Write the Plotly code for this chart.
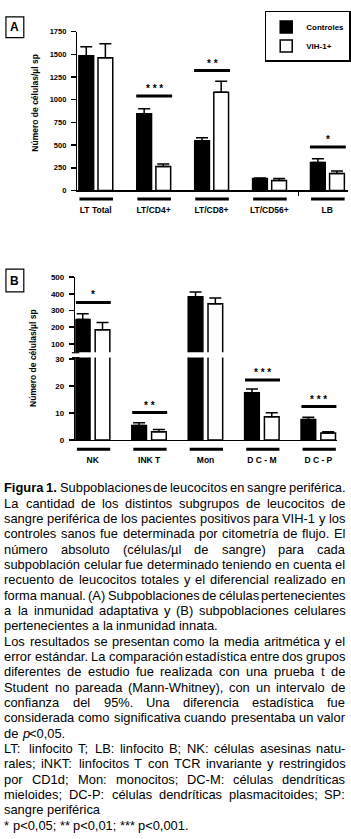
import plotly.graph_objects as go

# ---------------- data ----------------
cats_A = ["LT Total", "LT/CD4+", "LT/CD8+", "LT/CD56+", "LB"]
ctrl_A = [1485, 845, 547, 133, 307]
ctrl_A_err = [98, 55, 33, 5, 44]
vih_A = [1463, 264, 1082, 111, 188]
vih_A_err = [153, 28, 123, 22, 28]
sig_A_cat = [1, 2, 4]
sig_A_stars = ["* * *", "* *", "*"]
sig_A_level = [1041, 1322, 478]

cats_B = ["NK", "INK T", "Mon", "D C - M", "D C - P"]
ctrl_B = [246, 5.4, 382, 17.5, 7.6]
ctrl_B_err = [34, 1.0, 28, 1.4, 0.8]
vih_B = [185, 3.1, 340, 8.6, 2.6]
vih_B_err = [43, 0.8, 34, 1.5, 0.5]
sig_B_cat = [0, 1, 3, 4]
sig_B_stars = ["*", "* *", "* * *", "* * *"]
sig_B_level = [348, 10.2, 22.3, 12.4]

ticks_A = [0, 250, 500, 750, 1000, 1250, 1500, 1750]
ticks_B_low = [0, 10, 20, 30]
ticks_B_high = [100, 200, 300, 400, 500]

y_title = "Número de células/µl sp"
series_names = ["Controles", "VIH-1+"]

caption_lines = [
    "^Figura ^1. Subpoblaciones de leucocitos en sangre periférica.",
    "La cantidad de los distintos subgrupos de leucocitos de",
    "sangre periférica de los pacientes positivos para VIH-1 y los",
    "controles sanos fue determinada por citometría de flujo. El",
    "número absoluto (células/µl de sangre) para cada",
    "subpoblación celular fue determinado teniendo en cuenta el",
    "recuento de leucocitos totales y el diferencial realizado en",
    "forma manual. (A) Subpoblaciones de células pertenecientes",
    "a la inmunidad adaptativa y (B) subpoblaciones celulares",
    "pertenecientes a la inmunidad innata.",
    "Los resultados se presentan como la media aritmética y el",
    "error estándar. La comparación estadística entre dos grupos",
    "diferentes de estudio fue realizada con una prueba t de",
    "Student no pareada (Mann-Whitney), con un intervalo de",
    "confianza del 95%. Una diferencia estadística fue",
    "considerada como significativa cuando presentaba un valor",
    "de ~p|<0,05.",
    "LT: linfocito T; LB: linfocito B; NK: células asesinas natu-",
    "rales; iNKT: linfocitos T con TCR invariante y restringidos",
    "por CD1d; Mon: monocitos; DC-M: células dendríticas",
    "mieloides; DC-P: células dendríticas plasmacitoides; SP:",
    "sangre periférica",
    "* p<0,05; ** p<0,01; *** p<0,001.",
]
last_of_paragraph = {9, 16, 21, 22}

# ---------------- helpers ----------------
FW, FH = 351, 839
def fx(px):
    return px / FW
def fy(py):
    return 1 - py / FH

FONT = "Liberation Sans"
BLACK = "black"

# Helvetica/Arial advance widths (1/1000 em)
REG = {' ': 278, '!': 278, '%': 889, '(': 333, ')': 333, '*': 389, '+': 584, ',': 278,
       '-': 333, '.': 278, '/': 278, ':': 278, ';': 278, '<': 584, '>': 584,
       'á': 556, 'é': 556, 'í': 278, 'ó': 556, 'ú': 556, 'ñ': 556, 'µ': 556}
for d in "0123456789":
    REG[d] = 556
for ch, w in zip("ABCDEFGHIJKLMNOPQRSTUVWXYZ",
                 [667, 667, 722, 722, 667, 611, 778, 722, 278, 500, 667, 556, 833, 722, 778,
                  667, 778, 722, 667, 611, 722, 667, 944, 667, 667, 611]):
    REG[ch] = w
for ch, w in zip("abcdefghijklmnopqrstuvwxyz",
                 [556, 556, 500, 556, 556, 278, 556, 556, 222, 222, 500, 222, 833, 556, 556,
                  556, 556, 333, 500, 278, 556, 500, 722, 500, 500, 500]):
    REG[ch] = w
BOLD = dict(REG)
BOLD.update({'F': 611, 'i': 278, 'g': 611, 'u': 611, 'r': 389, 'a': 556, '.': 278})

def width_em(s, bold=False):
    tab = BOLD if bold else REG
    return sum(tab.get(c, 556) for c in s) / 1000.0

def tokens_of(line):
    toks = []
    for word in line.split(" "):
        for k, seg in enumerate(word.split("|")):
            style = ""
            if seg.startswith("^"):
                style, seg = "b", seg[1:]
            elif seg.startswith("~"):
                style, seg = "i", seg[1:]
            toks.append((seg, style, k > 0))
    return toks

def esc(s):
    return s.replace("&", "&amp;").replace("<", "&lt;").replace(">", "&gt;")

# ---------------- figure ----------------
fig = go.Figure()

def add_bars(xa, ya, vals, errs, color, name, offset, width, showlegend):
    fig.add_trace(go.Bar(
        x=list(range(len(vals))), y=vals, name=name,
        xaxis=xa, yaxis=ya, offset=offset, width=width,
        marker=dict(color=color, line=dict(color=BLACK, width=1.5)),
        error_y=dict(type="data", array=errs, arrayminus=[0] * len(errs), symmetric=False,
                     color=BLACK, thickness=1.5, width=6),
        showlegend=showlegend, legendgroup=name,
    ))

add_bars("x", "y", ctrl_A, ctrl_A_err, BLACK, series_names[0], -0.29, 0.255, True)
add_bars("x", "y", vih_A, vih_A_err, "white", series_names[1], 0.04, 0.255, True)
for xa, ya in (("x2", "y2"), ("x3", "y3")):
    add_bars(xa, ya, ctrl_B, ctrl_B_err, BLACK, series_names[0], -0.307, 0.26, False)
    add_bars(xa, ya, vih_B, vih_B_err, "white", series_names[1], 0.044, 0.26, False)

tickfont = dict(family=FONT, size=7.5, color=BLACK, weight="bold")
catfont = dict(family=FONT, size=8.5, color=BLACK, weight="bold")
common_y = dict(showline=True, linecolor=BLACK, linewidth=1.5, ticks="outside", ticklen=5,
                tickwidth=1.5, tickcolor=BLACK, showgrid=False, zeroline=False,
                tickfont=tickfont, ticklabelstandoff=3, fixedrange=True)
common_x = dict(showline=True, linecolor=BLACK, linewidth=1.5, ticks="", showgrid=False,
                zeroline=False, tickfont=catfont, fixedrange=True)

ca, sa = 96.5, 58.4
cb, sb = 93.5, 56.9
fig.update_layout(
    width=FW, height=FH, margin=dict(l=0, r=0, t=0, b=0),
    paper_bgcolor="white", plot_bgcolor="white", barmode="overlay",
    font=dict(family=FONT, color=BLACK),
    xaxis=dict(common_x, domain=[fx(78), 1.0], range=[(78 - ca) / sa, (351 - ca) / sa],
               anchor="y", tickvals=list(range(len(cats_A))), ticktext=cats_A,
               ticklabelstandoff=11,
               minor=dict(tickvals=[3.5], ticks="outside", ticklen=4, tickwidth=1.5,
                          tickcolor=BLACK)),
    yaxis=dict(common_y, domain=[fy(188.5), fy(28)], range=[0, 1750], anchor="x",
               tickvals=ticks_A),
    xaxis2=dict(common_x, domain=[fx(76), fx(340)], range=[(76 - cb) / sb, (340 - cb) / sb],
                anchor="y2", tickvals=list(range(len(cats_B))), ticktext=cats_B,
                ticklabelstandoff=11),
    yaxis2=dict(common_y, domain=[fy(440.7), fy(357.4)], range=[0, 30.6], anchor="x2",
                tickvals=ticks_B_low, tickfont=dict(tickfont, size=8)),
    xaxis3=dict(domain=[fx(76), fx(340)], range=[(76 - cb) / sb, (340 - cb) / sb],
                anchor="y3", visible=False, fixedrange=True),
    yaxis3=dict(common_y, domain=[fy(352.1), fy(276)], range=[50, 500], anchor="x3",
                tickvals=ticks_B_high, tickfont=dict(tickfont, size=8)),
    legend=dict(x=fx(267), y=fy(7), xanchor="left", yanchor="top", bordercolor=BLACK,
                borderwidth=1.5, bgcolor="white", itemwidth=30, tracegroupgap=0,
                font=dict(family=FONT, size=8, color=BLACK, weight="bold")),
)

shapes = []
annots = []

# underline bars under category labels
for i in range(len(cats_A)):
    shapes.append(dict(type="line", xref="x", yref="paper", x0=i - 0.28, x1=i + 0.30,
                       y0=fy(197), y1=fy(197), line=dict(color=BLACK, width=3)))
for i in range(len(cats_B)):
    shapes.append(dict(type="line", xref="x2", yref="paper", x0=i - 0.28, x1=i + 0.31,
                       y0=fy(450), y1=fy(450), line=dict(color=BLACK, width=3)))

# significance bars and stars
def add_sig(xref, yref, cat, level, stars):
    shapes.append(dict(type="line", xref=xref, yref=yref, x0=cat - 0.30, x1=cat + 0.32,
                       y0=level, y1=level, line=dict(color=BLACK, width=3)))
    annots.append(dict(xref=xref, yref=yref, x=cat + 0.01, y=level, text=stars,
                       showarrow=False, yanchor="bottom", yshift=0,
                       font=dict(family=FONT, size=10, color=BLACK, weight="bold")))

for c, l, s in zip(sig_A_cat, sig_A_level, sig_A_stars):
    add_sig("x", "y", c, l, s)
for c, l, s in zip(sig_B_cat, sig_B_level, sig_B_stars):
    add_sig("x2", "y3" if l > 40 else "y2", c, l, s)

# axis break marks (panel B)
for yb in (352.5, 357.5):
    shapes.append(dict(type="line", xref="paper", yref="paper", x0=fx(72.5), x1=fx(80),
                       y0=fy(yb), y1=fy(yb), line=dict(color=BLACK, width=1.2)))

# panel letter boxes
for letter, (x0, y0, x1, y1) in (("A", (6, 13, 24, 34)), ("B", (6, 268, 24, 291))):
    shapes.append(dict(type="rect", xref="paper", yref="paper", x0=fx(x0), x1=fx(x1),
                       y0=fy(y1), y1=fy(y0), line=dict(color=BLACK, width=1.2)))
    annots.append(dict(xref="paper", yref="paper", x=fx((x0 + x1) / 2), y=fy((y0 + y1) / 2),
                       text=letter, showarrow=False, xanchor="center", yanchor="middle",
                       font=dict(family=FONT, size=12, color=BLACK, weight="bold")))

# y axis titles
for xc, yc in ((35, 100), (33, 358)):
    annots.append(dict(xref="paper", yref="paper", x=fx(xc), y=fy(yc), text=y_title,
                       textangle=-90, showarrow=False, xanchor="center", yanchor="middle",
                       font=dict(family=FONT, size=8.5, color=BLACK, weight="bold")))

# caption (justified, word by word)
LEFT, RIGHT = 3.5, 347.0
TW = RIGHT - LEFT
line_tokens = [tokens_of(l) for l in caption_lines]

def natural_em(toks):
    w = sum(width_em(t, s == "b") for t, s, j in toks)
    gaps = sum(1 for k, (t, s, j) in enumerate(toks) if k > 0 and not j)
    return w, gaps

size = 12.9
for k, toks in enumerate(line_tokens):
    w, g = natural_em(toks)
    need = w + g * 0.2
    size = min(size, TW / need)

Y0, DY = 489.0, 15.5
for k, toks in enumerate(line_tokens):
    w, g = natural_em(toks)
    if k in last_of_paragraph or g == 0:
        gap = REG[' '] / 1000.0 * size
    else:
        gap = (TW - w * size) / g
    x = LEFT
    yc = Y0 + k * DY
    for n, (t, s, j) in enumerate(toks):
        if n > 0 and not j:
            x += gap
        txt = esc(t)
        if s == "b":
            txt = "<b>" + txt + "</b>"
        elif s == "i":
            txt = "<i>" + txt + "</i>"
        annots.append(dict(xref="paper", yref="paper", x=fx(x), y=fy(yc), text=txt,
                           showarrow=False, xanchor="left", yanchor="middle", borderpad=0,
                           font=dict(family=FONT, size=size, color=BLACK)))
        x += width_em(t, s == "b") * size

fig.update_layout(shapes=shapes, annotations=annots)
fig.write_html("out.html", config={"displayModeBar": False, "staticPlot": True},
               post_script="document.body.style.margin='0';document.body.style.overflow='hidden';")
